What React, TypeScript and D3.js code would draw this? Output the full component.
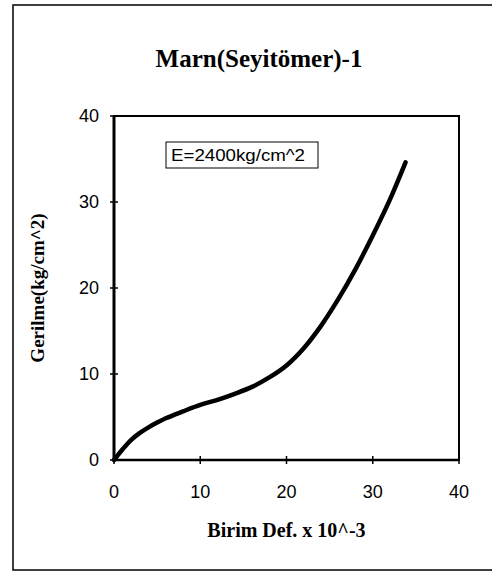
import React from "react";
import * as d3 from "d3";

const strainValues = [0, 1, 2, 3, 4, 5, 6, 8, 10, 12, 14, 16, 18, 20, 22, 24, 26, 28, 30, 32, 33.8];
const stressValues = [0, 1.25, 2.35, 3.15, 3.8, 4.35, 4.85, 5.65, 6.4, 7.0, 7.7, 8.5, 9.6, 11.0, 13.0, 15.6, 18.7, 22.2, 26.1, 30.3, 34.6];
const xTicks = [0, 10, 20, 30, 40];
const yTicks = [0, 10, 20, 30, 40];
const titleText = "Marn(Seyitömer)-1";
const xLabel = "Birim Def. x 10^-3";
const yLabel = "Gerilme(kg/cm^2)";
const noteText = "E=2400kg/cm^2";

export default function App() {
  const W = 492, H = 574;
  const left = 114, right = 459, top = 116, bottom = 460;
  const x = d3.scaleLinear().domain([0, 40]).range([left, right]);
  const y = d3.scaleLinear().domain([0, 40]).range([bottom, top]);
  const pts = strainValues.map((v, i) => [v, stressValues[i]] as [number, number]);
  const line = d3
    .line<[number, number]>()
    .x((d) => x(d[0]))
    .y((d) => y(d[1]))
    .curve(d3.curveCatmullRom.alpha(0.5));
  const sans = "'Liberation Sans', Arial, sans-serif";
  const serif = "'Liberation Serif', 'Times New Roman', serif";
  return (
    <svg
      width={W}
      height={H}
      style={{ position: "absolute", left: 0, top: 0, background: "#fff" }}
    >
      <rect x={0} y={0} width={W} height={H} fill="#fff" />
      <rect x={13} y={5} width={500} height={565} fill="none" stroke="#000" strokeWidth={1.5} />
      <text
        x={259}
        y={67}
        textAnchor="middle"
        fontFamily={serif}
        fontWeight="bold"
        fontSize={25}
        fill="#000"
      >
        {titleText}
      </text>
      <rect x={left} y={top} width={right - left} height={bottom - top} fill="none" stroke="#000" strokeWidth={2} />
      <line x1={left} x2={left} y1={top} y2={bottom} stroke="#000" strokeWidth={3} />
      <line x1={left} x2={right} y1={bottom} y2={bottom} stroke="#000" strokeWidth={2.5} />
      {yTicks.map((t) => (
        <g key={"y" + t}>
          <line x1={left - 4} x2={left + 4} y1={y(t)} y2={y(t)} stroke="#000" strokeWidth={1.5} />
          <text
            x={left - 15}
            y={y(t) + 6}
            textAnchor="end"
            fontFamily={sans}
            fontSize={18}
            fill="#000"
          >
            {t}
          </text>
        </g>
      ))}
      {xTicks.map((t) => (
        <g key={"x" + t}>
          <line x1={x(t)} x2={x(t)} y1={bottom - 4} y2={bottom + 4} stroke="#000" strokeWidth={1.5} />
          <text
            x={x(t)}
            y={498}
            textAnchor="middle"
            fontFamily={sans}
            fontSize={18}
            fill="#000"
          >
            {t}
          </text>
        </g>
      ))}
      <path d={line(pts) || ""} fill="none" stroke="#000" strokeWidth={4.5} strokeLinecap="round" strokeLinejoin="round" />
      <rect x={166} y={142} width={152} height={26} fill="#fff" stroke="#000" strokeWidth={1} />
      <text x={171} y={161} fontFamily={sans} fontSize={16} fill="#000" textLength={134} lengthAdjust="spacingAndGlyphs">
        {noteText}
      </text>
      <text
        x={(left + right) / 2}
        y={537}
        textAnchor="middle"
        fontFamily={serif}
        fontWeight="bold"
        fontSize={20}
        fill="#000"
      >
        {xLabel}
      </text>
      <text
        transform={`translate(44, ${(top + bottom) / 2}) rotate(-90)`}
        textAnchor="middle"
        fontFamily={serif}
        fontWeight="bold"
        fontSize={19}
        fill="#000"
      >
        {yLabel}
      </text>
    </svg>
  );
}
